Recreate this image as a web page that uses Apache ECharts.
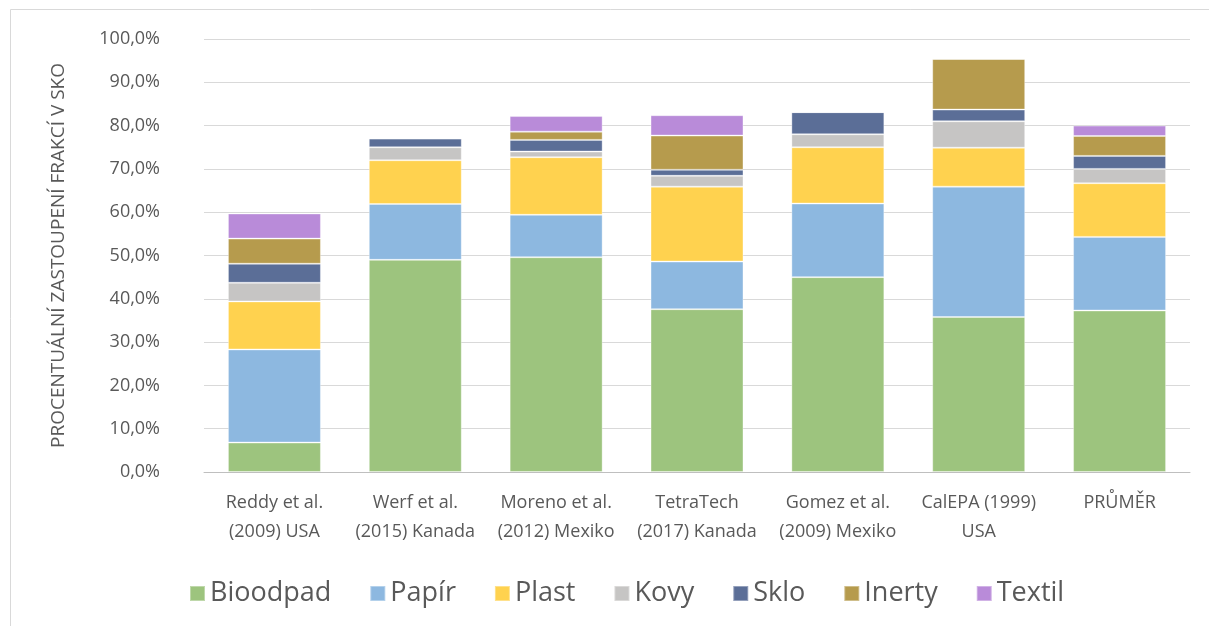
<!DOCTYPE html>
<html>
<head>
<meta charset="utf-8">
<script src="https://cdn.jsdelivr.net/npm/echarts@6/dist/echarts.min.js"></script>
<style>
  html, body { margin: 0; padding: 0; background: #fff; }
  #chart { width: 1209px; height: 626px; }
</style>
</head>
<body>
<div id="chart"></div>
<script>
const categories = [
  'Reddy et al.\n(2009) USA',
  'Werf et al.\n(2015) Kanada',
  'Moreno et al.\n(2012) Mexiko',
  'TetraTech\n(2017) Kanada',
  'Gomez et al.\n(2009) Mexiko',
  'CalEPA (1999)\nUSA',
  'PRŮMĚR'
]

const bioodpad = [6.8, 49.0, 49.6, 37.6, 45.0, 35.8, 37.3]
const papir = [21.5, 12.9, 9.8, 11.0, 17.0, 30.1, 17.0]
const plast = [11.1, 10.1, 13.3, 17.3, 13.0, 9.0, 12.4]
const kovy = [4.3, 3.0, 1.3, 2.5, 3.0, 6.1, 3.3]
const sklo = [4.4, 2.0, 2.7, 1.4, 5.1, 2.7, 3.0]
const inerty = [5.8, 0, 1.9, 7.9, 0, 11.7, 4.6]
const textil = [5.8, 0, 3.6, 4.7, 0, 0, 2.4]

const yTicks = { min: 0, max: 100, interval: 10 }

const seriesDefs = [
  ['Bioodpad', bioodpad, '#9dc47e'],
  ['Papír', papir, '#8db8e0'],
  ['Plast', plast, '#ffd24f'],
  ['Kovy', kovy, '#c6c5c4'],
  ['Sklo', sklo, '#5b6e97'],
  ['Inerty', inerty, '#b69b4d'],
  ['Textil', textil, '#b98bd9']
]

const font = "'Open Sans', sans-serif"
const textColor = '#595959'

const chart = echarts.init(document.getElementById('chart'))

chart.setOption({
  animation: false,
  textStyle: { fontFamily: font },
  graphic: [
    {
      type: 'rect',
      shape: { x: 10.5, y: 9.5, width: 1300, height: 700 },
      style: { fill: 'none', stroke: '#d9d9d9', lineWidth: 1 },
      silent: true
    }
  ],
  grid: { left: 204, right: 19, top: 39, bottom: 154 },
  legend: {
    bottom: 14,
    left: 184,
    itemWidth: 15,
    itemHeight: 15,
    itemGap: 38,
    icon: 'rect',
    textStyle: { color: textColor, fontSize: 27, fontFamily: font }
  },
  xAxis: {
    type: 'category',
    data: categories,
    axisLine: { lineStyle: { color: '#bfbfbf', width: 1 } },
    axisTick: { show: false },
    axisLabel: {
      color: textColor,
      fontSize: 18,
      lineHeight: 29,
      margin: 16,
      interval: 0
    }
  },
  yAxis: {
    type: 'value',
    min: yTicks.min,
    max: yTicks.max,
    interval: yTicks.interval,
    name: 'PROCENTUÁLNÍ ZASTOUPENÍ FRAKCÍ V SKO',
    nameLocation: 'middle',
    nameGap: 136,
    nameTextStyle: { color: textColor, fontSize: 19, fontFamily: font },
    axisLine: { show: false },
    axisTick: { show: false },
    splitLine: { lineStyle: { color: '#d9d9d9', width: 1 } },
    axisLabel: {
      color: textColor,
      fontSize: 18,
      margin: 44,
      formatter: v => v.toFixed(1).replace('.', ',') + '%'
    }
  },
  series: seriesDefs.map(([name, data, color]) => ({
    name,
    type: 'bar',
    stack: 'total',
    data,
    barCategoryGap: '34%',
    itemStyle: {
      color,
      borderColor: 'rgba(255,255,255,0.35)',
      borderWidth: 1
    }
  }))
})
</script>
</body>
</html>
